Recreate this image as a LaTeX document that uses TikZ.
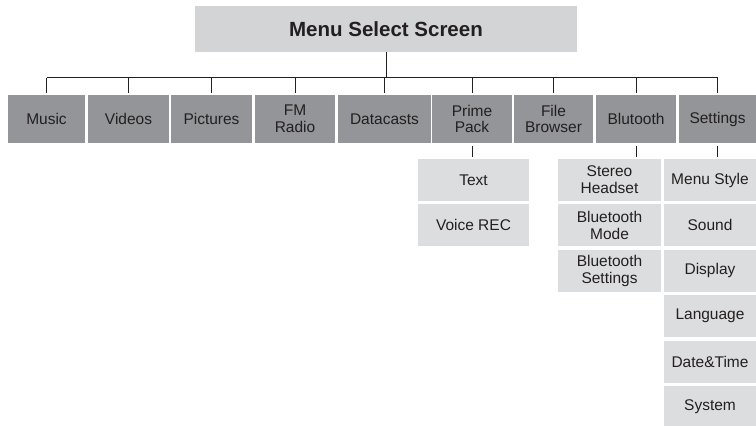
\documentclass[tikz,border=0pt]{standalone}
\usepackage{fontspec}
\setmainfont{Liberation Sans}
\usetikzlibrary{positioning}
\definecolor{ink}{HTML}{231F20}
\definecolor{topgray}{HTML}{D3D4D6}
\definecolor{rowgray}{HTML}{939598}
\definecolor{subgray}{HTML}{DCDDDE}

\begin{document}
\begin{tikzpicture}[x=1pt,y=-1pt,font=\fontsize{15.5}{16.7}\selectfont,text=ink,
    menu/.style={fill=rowgray,minimum width=80pt,minimum height=48pt,inner sep=0pt,align=center},
    sub/.style={fill=subgray,minimum height=42pt,inner sep=0pt,align=center},
    wire/.style={draw=ink,line width=0.9pt}]
    \useasboundingbox (0,0) rectangle (756,426);
    \node[fill=topgray,minimum width=382pt,minimum height=46pt,font=\fontsize{20.5}{24}\selectfont\bfseries] (top) at (386,29) {Menu Select Screen};
    % first level
    \node[menu,minimum width=77pt] (music) at (46.5,119) {Music};
    \node[menu,minimum width=81pt] (videos) at (128.5,119) {Videos};
    \node[menu,minimum width=81pt] (pictures) at (211.5,119) {Pictures};
    \node[menu] (fm) at (295,119) {FM\\Radio};
    \node[menu,minimum width=93pt] (datacasts) at (384.5,119) {Datacasts};
    \node[menu] (prime) at (472,119) {Prime\\Pack};
    \node[menu,minimum width=79pt] (file) at (553.5,119) {File\\Browser};
    \node[menu] (blutooth) at (636,119) {Blutooth};
    \node[menu,minimum width=77pt] (settings) at (717.5,119) {Settings};
    \coordinate (bus) at (386,77.5);
    % second level
    \node[sub,minimum width=111pt] (text) at (473.5,180) {Text};
    \node[sub,minimum width=111pt,below=3pt of text] (voice) {Voice REC};
    \node[sub,minimum width=103pt] (stereo) at (609.5,180) {Stereo\\Headset};
    \node[sub,minimum width=103pt,below=3pt of stereo] (btmode) {Bluetooth\\Mode};
    \node[sub,minimum width=103pt,below=3pt of btmode] (btset) {Bluetooth\\Settings};
    \node[sub,minimum width=92pt] (style) at (710,180) {Menu Style};
    \node[sub,minimum width=92pt,below=3pt of style] (sound) {Sound};
    \node[sub,minimum width=92pt,below=3pt of sound] (display) {Display};
    \node[sub,minimum width=92pt,below=3pt of display] (language) {Language};
    \node[sub,minimum width=92pt,below=3pt of language] (datetime) {Date\&Time};
    \node[sub,minimum width=92pt,below=3pt of datetime] (system) {System};
    % connectors
    \draw[wire] (top.south) -- (bus);
    \draw[wire] (music.north |- bus) -- (settings.north |- bus);
    \foreach \n in {music,videos,pictures,fm,datacasts,prime,file,blutooth,settings}
      \draw[wire] (\n.north |- bus) -- ([yshift=2pt]\n.north);
    \draw[wire] ([yshift=-3pt]prime.south) -- ([yshift=2pt]text.north -| prime.south);
    \draw[wire] ([yshift=-3pt]blutooth.south) -- ([yshift=2pt]stereo.north -| blutooth.south);
    \draw[wire] ([yshift=-3pt]settings.south) -- ([yshift=2pt]style.north -| settings.south);
  \end{tikzpicture}
\end{document}
